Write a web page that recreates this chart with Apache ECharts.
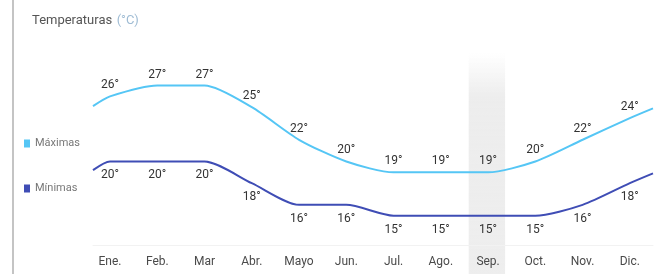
<!DOCTYPE html>
<html>
<head>
<meta charset="utf-8">
<script src="https://cdn.jsdelivr.net/npm/echarts@6/dist/echarts.min.js"></script>
<style>
    html, body {margin: 0; padding: 0; background: #fff;}
    #tempChart {width: 666px; height: 274px;}
</style>
</head>
<body>
<div id="tempChart"></div>
<script>
// meses del eje x
var months = ['Ene.', 'Feb.', 'Mar', 'Abr.', 'Mayo', 'Jun.', 'Jul.', 'Ago.', 'Sep.', 'Oct.', 'Nov.', 'Dic.'];
var maxTemps = [26, 27, 27, 25, 22, 20, 19, 19, 19, 20, 22, 24];
var minTemps = [20, 20, 20, 18, 16, 16, 15, 15, 15, 15, 16, 18];
// donde empieza/termina la linea fuera de los meses
var edgeX = [-0.36, 11.49];
var maxEdges = [25.1, 24.9];
var minEdges = [19.2, 18.9];
var highlightMonth = 8; // Sep.

var font = "Roboto, 'Liberation Sans', sans-serif";

function buildData(values, edges) {
    var arr = [];
    arr.push({value: [edgeX[0], edges[0]], label: {show: false}});
    for (var i = 0; i < values.length; i++) {
        arr.push([i, values[i]]);
    }
    arr.push({value: [edgeX[1], edges[1]], label: {show: false}});
    return arr;
}

var myChart = echarts.init(document.getElementById('tempChart'));
var option = {
    animation: false,
    textStyle: {fontFamily: font},
    title: {
        left: 27,
        top: 7,
        text: '{a|Temperaturas} {b|(°C)}',
        textStyle: {
            fontWeight: 'normal',
            rich: {
                a: {fontSize: 13, color: '#555', fontFamily: font},
                b: {fontSize: 13, color: '#9fbcd4', fontFamily: font}
            }
        }
    },
    legend: {
        orient: 'vertical',
        left: 19,
        top: 133,
        itemGap: 34,
        itemWidth: 6,
        itemHeight: 8,
        icon: 'rect',
        textStyle: {fontSize: 11, color: '#777', fontFamily: font},
        data: ['Máximas', 'Mínimas']
    },
    graphic: [
        {
            type: 'rect',
            shape: {x: 12, y: 0, width: 2, height: 274},
            style: {fill: '#c4c4c4'}
        }
    ],
    grid: {
        left: 93,
        right: 13,
        top: 53,
        bottom: 29
    },
    xAxis: {
        type: 'value',
        min: edgeX[0],
        max: edgeX[1],
        z: 10,
        splitLine: {show: false},
        axisTick: {show: false},
        axisLine: {show: true, lineStyle: {color: '#f2f2f2', width: 1}},
        axisLabel: {
            customValues: [0, 1, 2, 3, 4, 5, 6, 7, 8, 9, 10, 11],
            formatter: function (v) {
                return months[Math.round(v)];
            },
            margin: 11,
            fontSize: 12,
            color: '#4a4a4a',
            fontFamily: font
        }
    },
    yAxis: {
        type: 'value',
        min: 12.3,
        max: 30,
        show: false,
        splitLine: {show: false}
    },
    series: [
        {
            name: 'Máximas',
            type: 'line',
            smooth: 0.25,
            symbol: 'circle',
            symbolSize: 0,
            showSymbol: true,
            data: buildData(maxTemps, maxEdges),
            itemStyle: {color: '#55c6f5'},
            lineStyle: {color: '#55c6f5', width: 2},
            label: {
                show: true,
                position: 'top',
                distance: 5,
                formatter: function (p) { return p.value[1] + '°'; },
                fontSize: 12,
                color: '#333',
                fontFamily: font
            },
            z: 3
        },
        {
            name: 'Mínimas',
            type: 'line',
            smooth: 0.25,
            symbol: 'circle',
            symbolSize: 0,
            showSymbol: true,
            clip: false,
            data: buildData(minTemps, minEdges),
            itemStyle: {color: '#3f4db5'},
            lineStyle: {color: '#3f4db5', width: 2},
            label: {
                show: true,
                position: 'bottom',
                distance: 8,
                formatter: function (p) { return p.value[1] + '°'; },
                fontSize: 12,
                color: '#333',
                fontFamily: font
            },
            markArea: {
                silent: true,
                itemStyle: {
                    color: new echarts.graphic.LinearGradient(0, 0, 0, 1, [
                        {offset: 0, color: 'rgba(235,235,235,0)'},
                        {offset: 0.2, color: 'rgba(235,235,235,0.9)'},
                        {offset: 1, color: 'rgba(238,238,238,1)'}
                    ])
                },
                data: [[
                    {xAxis: highlightMonth - 0.41, y: 53},
                    {xAxis: highlightMonth + 0.36, y: 274}
                ]]
            },
            z: 3
        }
    ]
};
myChart.setOption(option);
</script>
</body>
</html>
